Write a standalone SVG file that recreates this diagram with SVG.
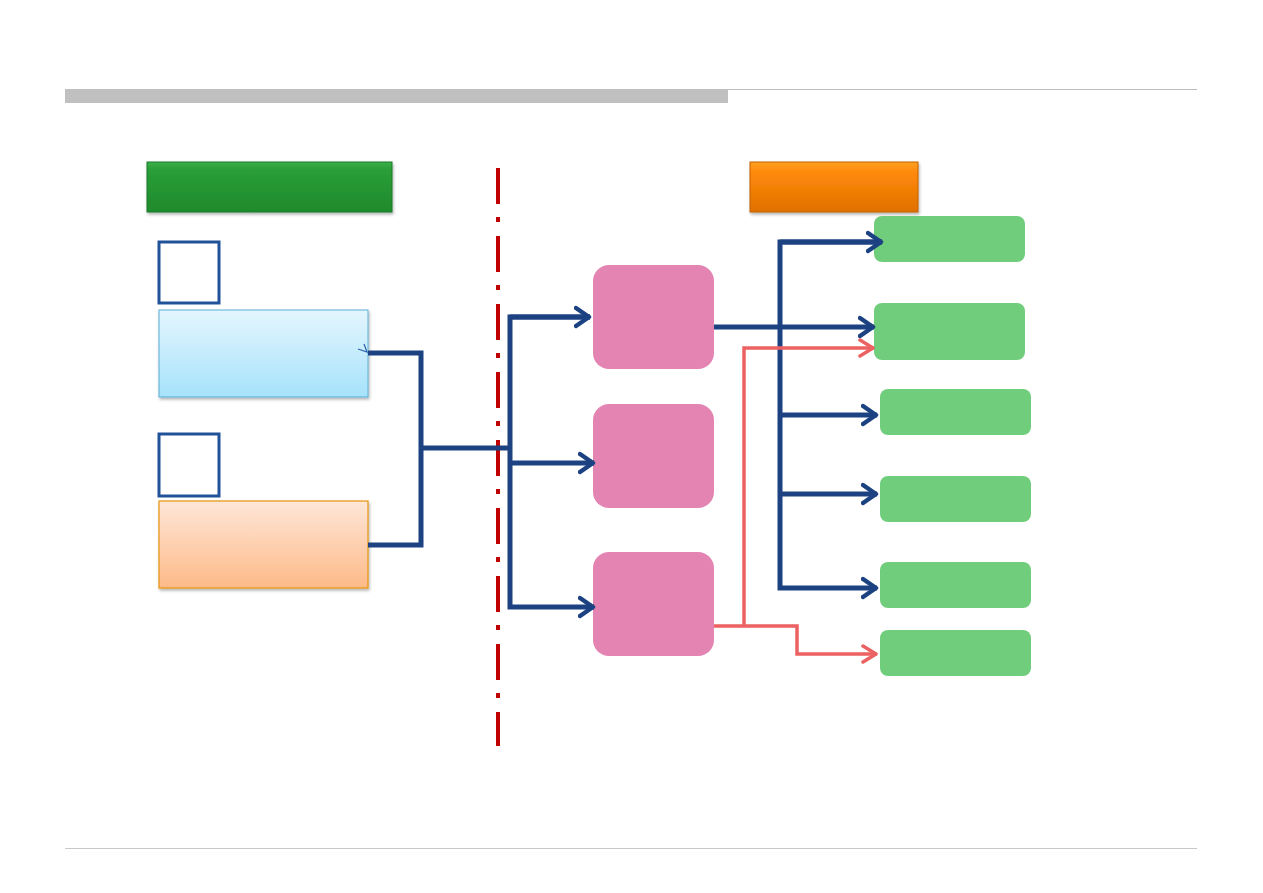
<svg xmlns="http://www.w3.org/2000/svg" width="1263" height="893" viewBox="0 0 1263 893">
<style>
.blue{fill:none;stroke:#1c4282;stroke-width:5;stroke-linejoin:miter}
.red{fill:none;stroke:#ec6262;stroke-width:3.5}
.pink{fill:#e484b2}
.green{fill:#70cd7b}
.sq{fill:#fff;stroke:#20529a;stroke-width:3}
.dash{stroke:#c00000;stroke-width:4;stroke-dasharray:36,13,5,14;fill:none}
</style>
<defs>
<linearGradient id="gHead" x1="0" y1="0" x2="0" y2="1"><stop offset="0" stop-color="#3cb04a"/><stop offset="0.15" stop-color="#2a9e38"/><stop offset="1" stop-color="#1f8a2c"/></linearGradient>
<linearGradient id="oHead" x1="0" y1="0" x2="0" y2="1"><stop offset="0" stop-color="#ffa020"/><stop offset="0.2" stop-color="#ff8a0a"/><stop offset="1" stop-color="#e07000"/></linearGradient>
<linearGradient id="lblue" x1="0" y1="0" x2="0" y2="1"><stop offset="0" stop-color="#e4f6fe"/><stop offset="1" stop-color="#a6e2fb"/></linearGradient>
<linearGradient id="lorange" x1="0" y1="0" x2="0" y2="1"><stop offset="0" stop-color="#fee6d8"/><stop offset="1" stop-color="#fdba88"/></linearGradient>
<marker id="ab" markerWidth="20" markerHeight="24" refX="16" refY="12" orient="auto" markerUnits="userSpaceOnUse"><polyline points="2,3 15,12 2,21" fill="none" stroke="#1c4282" stroke-width="4.5" stroke-linecap="round" stroke-linejoin="round"/></marker>
<marker id="ar" markerWidth="20" markerHeight="24" refX="16" refY="12" orient="auto" markerUnits="userSpaceOnUse"><polyline points="2,4 15,12 2,20" fill="none" stroke="#ec6262" stroke-width="3.5" stroke-linecap="round" stroke-linejoin="round"/></marker>
<filter id="sh" x="-5%" y="-10%" width="115%" height="130%"><feDropShadow dx="1" dy="2" stdDeviation="1.5" flood-opacity="0.3"/></filter>
</defs>
<rect width="1263" height="893" fill="#fff"/>
<g id="frame">
<line x1="65" y1="89.5" x2="1197" y2="89.5" stroke="#bdbdbd" stroke-width="1"/>
<rect x="65" y="89" width="663" height="14" fill="#c0c0c0"/>
<line x1="65" y1="848.5" x2="1197" y2="848.5" stroke="#c8c8c8" stroke-width="1"/>
</g>
<g id="header-left"><rect x="147" y="162" width="245" height="50" fill="url(#gHead)" stroke="#1d7a28" stroke-width="1" filter="url(#sh)"/></g>
<g id="header-right"><rect x="750" y="162" width="168" height="50" fill="url(#oHead)" stroke="#c06000" stroke-width="1" filter="url(#sh)"/></g>
<g id="divider"><line class="dash" x1="498" y1="168" x2="498" y2="746"/></g>
<g id="square1"><rect class="sq" x="159" y="242" width="60" height="61"/></g>
<g id="square2"><rect class="sq" x="159" y="434" width="60" height="62"/></g>
<g id="source1"><rect x="159" y="310" width="209" height="87" fill="url(#lblue)" stroke="#5aaed6" stroke-width="1" filter="url(#sh)"/></g>
<g id="source2"><rect x="159" y="501" width="209" height="87" fill="url(#lorange)" stroke="#e8940c" stroke-width="1.2" filter="url(#sh)"/></g>
<g id="pink1"><rect class="pink" x="593" y="265" width="121" height="104" rx="16"/></g>
<g id="pink2"><rect class="pink" x="593" y="404" width="121" height="104" rx="16"/></g>
<g id="pink3"><rect class="pink" x="593" y="552" width="121" height="104" rx="16"/></g>
<g id="out1"><rect class="green" x="874" y="216" width="151" height="46" rx="8"/></g>
<g id="out2"><rect class="green" x="874" y="303" width="151" height="57" rx="8"/></g>
<g id="out3"><rect class="green" x="880" y="389" width="151" height="46" rx="8"/></g>
<g id="out4"><rect class="green" x="880" y="476" width="151" height="46" rx="8"/></g>
<g id="out5"><rect class="green" x="880" y="562" width="151" height="46" rx="8"/></g>
<g id="out6"><rect class="green" x="880" y="630" width="151" height="46" rx="8"/></g>
<g id="connectors">
<polyline class="blue" points="368,353 421,353 421,545 368,545"/>
<polyline points="358,349 367,352 364,344" fill="none" stroke="#2a5fa8" stroke-width="1.2"/>
<line class="blue" x1="421" y1="448" x2="510" y2="448"/>
<polyline class="blue" points="590,317 510,317 510,607 594,607" marker-end="url(#ab)"/>
<line class="blue" x1="510" y1="317" x2="590" y2="317" marker-end="url(#ab)"/>
<line class="blue" x1="510" y1="463" x2="594" y2="463" marker-end="url(#ab)"/>
<line class="blue" x1="714" y1="327" x2="874" y2="327" marker-end="url(#ab)"/>
<polyline class="blue" points="882,242 780,242 780,588 877,588" marker-end="url(#ab)"/>
<line class="blue" x1="780" y1="242" x2="882" y2="242" marker-end="url(#ab)"/>
<line class="blue" x1="780" y1="415" x2="877" y2="415" marker-end="url(#ab)"/>
<line class="blue" x1="780" y1="494" x2="877" y2="494" marker-end="url(#ab)"/>
<polyline class="red" points="714,626 797,626 797,654 877,654" marker-end="url(#ar)"/>
<polyline class="red" points="744,626 744,348 874,348" marker-end="url(#ar)"/>
</g>
</svg>
